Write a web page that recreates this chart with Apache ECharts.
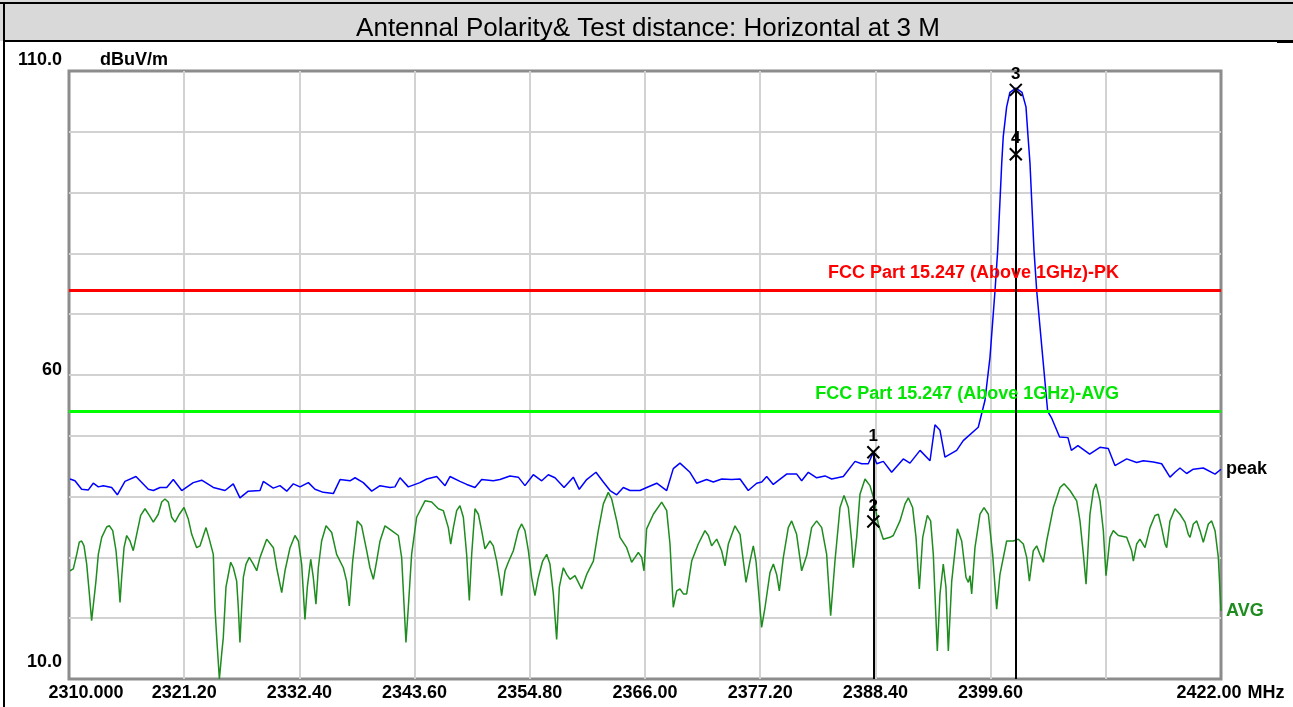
<!DOCTYPE html>
<html>
<head>
<meta charset="utf-8">
<script src="https://cdn.jsdelivr.net/npm/echarts@6/dist/echarts.min.js"></script>
<style>
html,body{margin:0;padding:0;background:#fff;}
#c{width:1293px;height:707px;}
</style>
</head>
<body>
<div id="c"></div>
<script>
// ---- data ----
const titleText = 'Antennal Polarity& Test distance: Horizontal at 3 M';
const xStart = 2310, xEnd = 2422, xStep = 11.2;
const xTickLabels = ['2310.000','2321.20','2332.40','2343.60','2354.80','2366.00','2377.20','2388.40','2399.60','','2422.00'];
const yTickLabels = {10:'10.0', 60:'60', 110:'110.0'};

const peakFreq = [2310.10,2310.58,2311.23,2311.88,2312.36,2312.85,2313.33,2314.15,2314.70,2315.44,2316.51,2317.71,2318.20,2318.85,2319.50,2320.14,2320.96,2322.08,2322.90,2324.03,2325.17,2325.97,2326.62,2327.43,2328.57,2328.89,2329.86,2330.51,2331.17,2331.81,2332.46,2333.27,2333.92,2334.72,2335.70,2336.35,2337.32,2337.81,2338.61,2339.43,2340.24,2341.21,2341.69,2342.18,2342.99,2344.12,2344.78,2345.75,2346.56,2347.04,2348.01,2348.67,2349.47,2350.12,2351.25,2351.90,2352.87,2353.68,2354.33,2355.14,2355.96,2356.60,2357.25,2358.13,2359.03,2359.61,2360.33,2361.23,2361.95,2362.60,2363.25,2363.89,2364.54,2365.51,2366.17,2367.14,2368.11,2368.75,2369.40,2370.37,2371.02,2371.99,2372.64,2373.46,2374.43,2375.24,2376.04,2376.86,2377.35,2377.83,2378.47,2379.77,2380.75,2381.23,2381.88,2382.69,2383.50,2384.15,2385.28,2386.42,2387.06,2387.71,2388.14,2388.53,2389.17,2389.98,2391.11,2391.76,2392.74,2393.71,2394.19,2394.68,2395.16,2396.30,2396.94,2398.40,2399.05,2399.54,2400.03,2400.29,2400.68,2400.83,2401.16,2401.48,2402.07,2402.65,2403.04,2403.24,2403.43,2403.82,2404.08,2404.67,2405.15,2405.51,2406.31,2407.12,2407.45,2408.09,2409.23,2410.23,2411.04,2411.69,2412.83,2413.80,2414.45,2415.42,2416.23,2417.04,2417.53,2418.01,2418.66,2419.31,2420.28,2421.42,2422.00];
const peakLevel = [42.9,42.6,41.2,41.1,42.2,41.6,41.8,41.5,40.3,42.5,43.3,41.2,41.0,41.5,41.5,42.8,41.0,42.3,42.7,41.5,41.0,42.1,39.8,40.9,41.0,42.5,41.4,41.8,40.9,42.1,41.6,42.3,41.2,40.7,40.5,42.8,42.6,43.1,42.3,40.9,41.8,41.5,41.6,43.1,41.6,42.3,42.9,43.3,41.8,43.3,42.5,42.0,41.5,42.8,42.6,42.8,43.4,43.2,41.8,43.6,42.6,43.6,43.1,41.5,43.2,41.2,42.8,44.0,42.4,41.0,40.3,41.5,41.0,41.0,41.5,42.2,41.0,44.6,45.5,44.0,42.2,42.8,42.4,42.9,42.8,42.9,41.0,42.2,42.4,43.3,42.0,43.7,43.7,42.6,44.0,43.1,43.4,42.9,43.3,45.8,45.4,45.4,47.1,45.4,45.8,44.0,46.2,45.5,47.6,45.9,51.8,50.9,46.5,47.6,49.2,51.4,55.8,62.9,73.9,80.5,94.8,99.2,104.1,106.5,107.2,106.5,104.1,99.2,94.8,80.5,73.9,62.9,54.0,53.0,49.8,49.7,47.6,48.4,47.0,48.1,47.9,45.1,46.2,45.6,45.9,45.7,45.4,43.2,44.0,44.7,43.8,44.5,44.7,43.7,44.5];

// AVG trace as [MHz, dBuV/m] pairs
const avgTrace = [[2310.10,27.8],[2310.42,28.1],[2310.75,30.5],[2311.00,32.5],[2311.23,32.7],[2311.46,31.9],[2311.72,28.9],[2311.98,24.0],[2312.20,19.6],[2312.37,19.8],[2312.62,26.1],[2312.85,30.5],[2313.18,33.3],[2313.66,35.0],[2313.92,35.2],[2314.25,34.4],[2314.57,31.1],[2314.80,26.7],[2314.96,22.6],[2315.12,26.7],[2315.35,31.6],[2315.61,33.6],[2315.93,32.7],[2316.25,31.1],[2316.58,33.8],[2316.97,36.9],[2317.39,38.0],[2317.81,36.9],[2318.20,35.8],[2318.68,37.1],[2319.01,39.1],[2319.33,39.6],[2319.66,39.1],[2319.98,36.6],[2320.31,35.8],[2320.73,37.1],[2321.18,38.2],[2321.60,36.3],[2321.93,33.8],[2322.41,31.6],[2322.74,31.9],[2323.32,34.9],[2323.64,33.0],[2324.03,30.5],[2324.19,21.8],[2324.36,16.8],[2324.62,10.0],[2324.84,14.1],[2325.00,16.8],[2325.26,25.1],[2325.72,29.2],[2325.98,28.3],[2326.30,26.1],[2326.46,21.8],[2326.62,16.0],[2326.79,21.8],[2326.95,26.7],[2327.21,28.9],[2327.53,30.0],[2327.92,28.9],[2328.25,27.8],[2328.57,30.0],[2329.22,33.0],[2329.87,31.6],[2330.19,28.3],[2330.68,24.2],[2331.00,27.8],[2331.49,31.6],[2331.97,33.6],[2332.30,32.7],[2332.62,28.9],[2332.94,19.8],[2333.17,25.1],[2333.50,29.7],[2333.75,26.7],[2334.01,22.3],[2334.24,28.3],[2334.56,32.7],[2334.99,35.2],[2335.54,34.1],[2336.02,30.5],[2336.67,28.3],[2336.99,26.1],[2337.25,22.0],[2337.58,29.4],[2338.03,36.0],[2338.45,35.2],[2338.94,31.1],[2339.26,28.3],[2339.59,26.4],[2339.91,29.4],[2340.24,32.7],[2340.72,35.2],[2341.37,34.4],[2342.02,33.6],[2342.34,30.0],[2342.76,16.0],[2342.99,21.8],[2343.31,30.5],[2343.80,36.6],[2344.61,39.3],[2345.26,39.1],[2345.91,38.0],[2346.39,37.7],[2346.88,34.9],[2347.11,32.2],[2347.37,34.9],[2347.69,37.7],[2348.01,38.5],[2348.34,36.6],[2348.66,30.5],[2348.92,22.9],[2349.15,30.5],[2349.47,38.0],[2349.80,37.1],[2350.12,34.4],[2350.44,31.4],[2350.93,32.7],[2351.25,31.9],[2351.58,29.4],[2351.90,26.1],[2352.06,23.7],[2352.39,27.8],[2352.71,29.2],[2353.20,31.1],[2353.68,34.4],[2354.01,35.5],[2354.33,34.4],[2354.66,31.1],[2354.98,26.7],[2355.30,23.7],[2355.63,26.7],[2356.05,29.4],[2356.44,30.5],[2356.76,28.9],[2357.09,24.0],[2357.41,16.5],[2357.67,25.1],[2358.06,28.3],[2358.38,27.2],[2358.71,26.4],[2359.19,27.0],[2359.52,25.9],[2359.84,24.8],[2360.33,27.2],[2360.98,29.4],[2361.46,34.4],[2361.95,38.8],[2362.43,40.7],[2362.76,39.6],[2363.25,36.0],[2363.57,33.3],[2364.22,31.6],[2364.70,29.2],[2365.03,30.0],[2365.35,30.8],[2365.68,30.0],[2365.90,27.8],[2366.16,34.7],[2366.81,37.1],[2367.62,39.1],[2368.11,37.7],[2368.43,32.2],[2368.75,21.8],[2369.08,24.5],[2369.40,24.8],[2369.73,24.0],[2370.05,24.0],[2370.54,29.4],[2371.18,32.2],[2371.83,34.4],[2372.16,33.6],[2372.48,31.9],[2372.97,33.0],[2373.45,31.1],[2373.78,28.6],[2374.10,32.2],[2374.75,35.2],[2375.24,33.8],[2375.56,29.4],[2375.82,25.9],[2376.21,29.4],[2376.53,31.9],[2376.79,29.4],[2377.12,22.9],[2377.34,18.5],[2377.67,21.8],[2378.15,27.5],[2378.48,28.9],[2378.80,27.2],[2379.06,24.5],[2379.45,30.0],[2379.93,34.9],[2380.26,36.0],[2380.74,33.8],[2381.23,27.8],[2381.72,30.3],[2382.20,34.9],[2382.69,36.0],[2383.18,34.9],[2383.66,30.5],[2384.05,20.4],[2384.47,29.4],[2384.96,38.2],[2385.35,40.2],[2385.77,38.2],[2386.09,32.7],[2386.25,28.3],[2386.58,33.3],[2386.90,40.4],[2387.39,42.9],[2387.87,41.8],[2388.20,39.9],[2388.68,35.5],[2389.17,33.0],[2389.82,33.3],[2390.14,33.6],[2390.79,36.0],[2391.28,38.8],[2391.60,39.8],[2392.02,38.2],[2392.35,33.3],[2392.67,24.8],[2393.00,33.3],[2393.45,36.9],[2393.77,36.0],[2394.03,30.5],[2394.42,14.6],[2394.68,24.0],[2395.00,28.9],[2395.26,25.1],[2395.49,14.6],[2395.82,26.1],[2396.37,34.7],[2396.79,32.7],[2397.21,26.7],[2397.44,25.9],[2397.60,27.0],[2397.76,24.0],[2398.08,31.6],[2398.57,37.1],[2398.96,38.2],[2399.38,37.1],[2399.80,30.5],[2400.19,21.5],[2400.51,27.2],[2401.16,32.7],[2401.81,32.7],[2402.30,33.0],[2402.78,32.2],[2403.11,30.0],[2403.37,26.1],[2403.75,31.1],[2404.08,31.9],[2404.40,30.5],[2404.73,29.2],[2405.05,32.7],[2405.70,38.2],[2406.35,41.5],[2406.74,42.1],[2407.32,41.0],[2407.97,39.3],[2408.29,36.0],[2408.62,30.5],[2408.88,25.6],[2409.26,37.1],[2409.59,41.0],[2409.85,42.1],[2410.24,39.3],[2410.56,34.4],[2410.82,27.0],[2411.21,33.3],[2411.53,34.4],[2412.02,33.6],[2412.83,33.3],[2413.31,31.1],[2413.48,29.4],[2413.80,32.2],[2414.12,33.0],[2414.61,31.6],[2415.10,34.9],[2415.58,36.9],[2415.91,37.1],[2416.23,34.9],[2416.56,32.2],[2416.72,31.6],[2417.04,36.0],[2417.53,38.0],[2418.01,37.1],[2418.50,35.8],[2418.82,33.8],[2418.99,33.3],[2419.31,35.5],[2419.64,36.0],[2419.96,34.4],[2420.28,32.5],[2420.77,35.5],[2421.09,36.0],[2421.42,34.4],[2421.74,30.0],[2422.00,21.2]];

const limitNames = ['FCC Part 15.247 (Above 1GHz)-PK','FCC Part 15.247 (Above 1GHz)-AVG'];
const limitLevels = [74, 54];

const markerFreq = [2388.2, 2388.2, 2402.05, 2402.05];
const markerLevel = [47.3, 35.9, 106.9, 96.3];
const markerNames = ['1','2','3','4'];

// ---- build ----
const off = f => +(f - xStart).toFixed(4);
const FONT = 'Arial, "Liberation Sans", sans-serif';
const GREEN = '#1e8c1e';

const chart = echarts.init(document.getElementById('c'), null, {renderer: 'canvas'});
const option = {
  animation: false,
  backgroundColor: '#fff',
  grid: {left: 69, right: 72, top: 71, height: 608, show: true, borderColor: '#8c8c8c', borderWidth: 3, backgroundColor: 'transparent'},
  xAxis: {
    type: 'value', min: 0, max: xEnd - xStart, interval: xStep,
    axisLine: {show: false}, axisTick: {show: false},
    splitLine: {show: true, showMinLine: false, showMaxLine: false, lineStyle: {color: '#d2d2d2', width: 2}},
    name: 'MHz', nameLocation: 'end', nameGap: 5,
    nameTextStyle: {fontFamily: FONT, fontSize: 18, fontWeight: 'bold', color: '#000', verticalAlign: 'top', align: 'left', padding: [5, 0, 0, 0]},
    axisLabel: {
      margin: 5, color: '#000', fontFamily: FONT, fontSize: 18, fontWeight: 'bold',
      formatter: v => {
        const i = Math.round(v / xStep);
        const t = xTickLabels[i] || '';
        if (i === 0) return '{first|' + t + '}';
        if (i === xTickLabels.length - 1) return '{last|' + t + '}';
        return t;
      },
      rich: {
        first: {fontFamily: FONT, fontSize: 18, fontWeight: 'bold', color: '#000', padding: [0, 0, 0, 34]},
        last: {fontFamily: FONT, fontSize: 18, fontWeight: 'bold', color: '#000', padding: [0, 24, 0, 0]}
      }
    }
  },
  yAxis: {
    type: 'value', min: 10, max: 110, interval: 10,
    axisLine: {show: false}, axisTick: {show: false},
    splitLine: {show: true, showMinLine: false, showMaxLine: false, lineStyle: {color: '#d2d2d2', width: 2}},
    name: 'dBuV/m', nameLocation: 'end', nameGap: 11,
    nameTextStyle: {fontFamily: FONT, fontSize: 18, fontWeight: 'bold', color: '#000', align: 'left', verticalAlign: 'middle', padding: [0, 0, 0, 31]},
    axisLabel: {
      margin: 7, color: '#000', fontFamily: FONT, fontSize: 18, fontWeight: 'bold',
      formatter: v => {
        const t = yTickLabels[v];
        if (!t) return '';
        if (v === 110) return '{a|' + t + '}';
        if (v === 60) return '{b|' + t + '}';
        return '{c|' + t + '}';
      },
      rich: {
        a: {fontFamily: FONT, fontSize: 18, fontWeight: 'bold', color: '#000', padding: [0, 0, 22, 0]},
        b: {fontFamily: FONT, fontSize: 18, fontWeight: 'bold', color: '#000', padding: [0, 0, 10, 0]},
        c: {fontFamily: FONT, fontSize: 18, fontWeight: 'bold', color: '#000', padding: [0, 0, 34, 0]}
      }
    }
  },
  graphic: [
    {type: 'rect', left: 0, top: 0, shape: {width: 1293, height: 41}, style: {fill: '#d9d9d9'}, z: -10, silent: true},
    {type: 'rect', left: 0, top: 2, shape: {width: 1293, height: 2}, style: {fill: '#000'}, silent: true},
    {type: 'rect', left: 4, top: 40, shape: {width: 1273, height: 2}, style: {fill: '#000'}, silent: true},
    {type: 'rect', left: 1277, top: 40, shape: {width: 16, height: 3}, style: {fill: '#000'}, silent: true},
    {type: 'rect', left: 3, top: 2, shape: {width: 2, height: 705}, style: {fill: '#000'}, silent: true},
    {type: 'text', x: 648, y: 29, style: {text: titleText, fontFamily: FONT, fontSize: 26, fill: '#000', align: 'center', verticalAlign: 'middle'}, silent: true}
  ],
  series: [
    {
      name: 'peak', type: 'line', data: peakFreq.map((f, i) => [off(f), peakLevel[i]]), showSymbol: false, symbol: 'none',
      lineStyle: {color: '#0000ff', width: 1.5}, z: 4,
      endLabel: {show: true, formatter: 'peak', color: '#000', fontFamily: FONT, fontSize: 18, fontWeight: 'bold', distance: 5},
      markLine: {
        silent: true, symbol: 'none', animation: false,
        data: limitLevels.map((lv, i) => ({
          yAxis: lv, name: limitNames[i],
          lineStyle: {color: i === 0 ? '#ff0000' : '#00ff00', width: 3, type: 'solid'},
          label: {show: true, position: 'insideEndTop', formatter: limitNames[i], color: i === 0 ? '#ff0000' : '#00e600',
                  fontFamily: FONT, fontSize: 18, fontWeight: 'bold', padding: [0, 94, 0, 0], distance: 8}
        }))
      }
    },
    {
      name: 'AVG', type: 'line', data: avgTrace.map(p => [off(p[0]), p[1]]), showSymbol: false, symbol: 'none',
      lineStyle: {color: GREEN, width: 1.5}, z: 3,
      endLabel: {show: true, formatter: 'AVG', color: GREEN, fontFamily: FONT, fontSize: 18, fontWeight: 'bold', distance: 5}
    },
    {
      name: 'markers', type: 'scatter', z: 6,
      data: markerFreq.map((f, i) => ({value: [off(f), markerLevel[i]], name: markerNames[i]})),
      symbol: 'path://M0,0L12,12M12,0L0,12', symbolSize: 12,
      itemStyle: {color: 'rgba(0,0,0,0)', borderColor: '#000', borderWidth: 2, opacity: 1},
      label: {show: true, position: 'top', distance: 0, formatter: p => p.name, color: '#000', fontFamily: FONT, fontSize: 17, fontWeight: 'bold'},
      markLine: {
        silent: true, symbol: 'none', animation: false,
        lineStyle: {color: '#000', width: 2, type: 'solid'},
        label: {show: false},
        data: [0, 2].map(i => [{coord: [off(markerFreq[i]), markerLevel[i]]}, {coord: [off(markerFreq[i]), 10]}])
      }
    }
  ]
};
chart.setOption(option);
</script>
</body>
</html>
